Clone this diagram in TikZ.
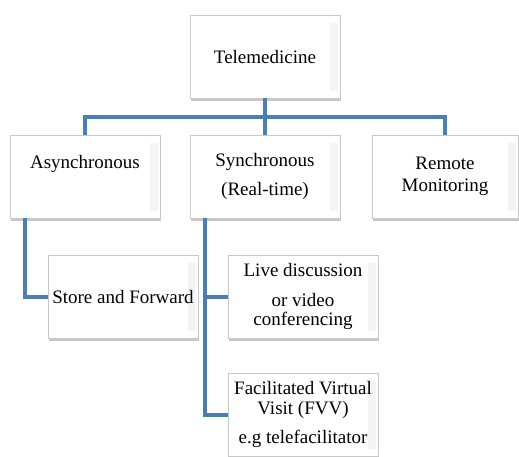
\documentclass[tikz,border=0pt]{standalone}
\usepackage{fontspec}
\setmainfont{Liberation Serif}
\usepackage{tikz}
\usetikzlibrary{positioning,shadows,calc}
\definecolor{linkblue}{HTML}{4A7EBB}
\definecolor{boxedge}{HTML}{C8C8C8}

\tikzset{
  tbox/.style={draw=boxedge, fill=white, minimum width=150pt, minimum height=83pt,
    inner sep=0pt, align=center, font=\fontsize{19}{23}\selectfont,
    drop shadow={shadow xshift=1.2pt, shadow yshift=-2.5pt, opacity=0.55, fill=gray!80},
    path picture={
      \shade[left color=white, right color=gray!9]
        ([xshift=-10pt,yshift=-8pt]path picture bounding box.north east)
        rectangle ([xshift=-2pt,yshift=8pt]path picture bounding box.south east);
    }},
  conn/.style={draw=linkblue, line width=4pt}
}

\begin{document}
\begin{tikzpicture}[x=1pt, y=-1pt]
  \useasboundingbox (0,0) rectangle (519,456);

  % top level
  \node[tbox] (tele) at (265,56.5) {Telemedicine};

  % second level
  \node[tbox] (async) at (85,176.5) {Asynchronous\\[6pt]~};
  \node[tbox] (sync) at (265,176.5) {Synchronous\\[6pt](Real-time)};
  \node[tbox, minimum width=146pt] (remote) at (445,176.5) {Remote\\[-1pt]Monitoring};

  % third level
  \node[tbox] (store) at (123,296.5) {Store and Forward};
  \node[tbox] (live) at (303,296.5) {Live discussion\\[7pt]or video\\[-4pt]conferencing};
  \node[tbox] (fvv) at (303,414.5) {Facilitated Virtual\\[-3pt]Visit (FVV)\\[6pt]e.g telefacilitator};

  % connectors
  \coordinate (bus) at (265,117);
  \draw[conn] (async.north) |- (bus) -| (remote.north);
  \draw[conn] (tele.south) -- (sync.north);
  \draw[conn] ([xshift=15pt]async.south west) |- (store.west);
  \draw[conn] ([xshift=15pt]sync.south west) |- (live.west);
  \draw[conn] ([xshift=15pt]sync.south west) |- (fvv.west);
\end{tikzpicture}
\end{document}
